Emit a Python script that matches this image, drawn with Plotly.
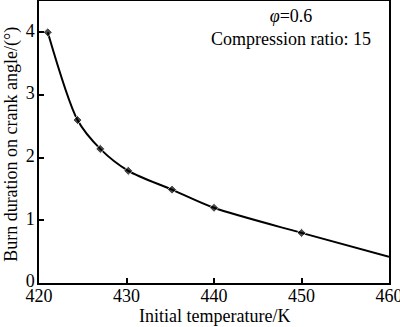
import plotly.graph_objects as go

# Burn duration vs. initial temperature (phi = 0.6, compression ratio 15)
temperature = [421.0, 424.4, 427.0, 430.2, 435.2, 440.0, 450.0, 460.0]
burn_duration = [4.0, 2.6, 2.14, 1.79, 1.49, 1.2, 0.8, 0.42]
marker_sizes = [7, 7, 7, 7, 7, 7, 7, 0]

x_ticks = [420, 430, 440, 450, 460]
y_ticks = [0, 1, 2, 3, 4]

x_title = "Initial temperature/K"
y_title = "Burn duration on crank angle/(°)"

font_family = "Liberation Serif, Times New Roman, serif"
text_font = dict(family=font_family, size=18, color="black")

fig = go.Figure()
fig.add_trace(go.Scatter(
    x=temperature, y=burn_duration,
    mode="lines+markers",
    line=dict(color="black", width=2, shape="spline", smoothing=0.8),
    marker=dict(symbol="diamond", size=marker_sizes, color="black"),
    showlegend=False,
))

fig.add_annotation(
    x=0.72, y=0.99, xref="paper", yref="paper",
    text="<i>φ</i>=0.6<br>Compression ratio: 15",
    showarrow=False, xanchor="center", yanchor="top", align="center",
    font=text_font,
)

# Axis titles placed just outside the tick labels
fig.add_annotation(
    x=0.5, y=-0.118, xref="paper", yref="paper",
    text=x_title, showarrow=False, xanchor="center", yanchor="middle",
    font=text_font,
)
fig.add_annotation(
    x=-0.077, y=0.49, xref="paper", yref="paper",
    text=y_title, showarrow=False, xanchor="center", yanchor="middle",
    textangle=-90, font=text_font,
)

axis_common = dict(
    showline=True, linecolor="black", linewidth=1.5, mirror=True,
    ticks="inside", ticklen=5, tickwidth=1.5, tickcolor="black",
    showgrid=False, zeroline=False, automargin=False,
    tickfont=text_font, ticklabeloverflow="allow",
)

fig.update_layout(
    width=400, height=327,
    margin=dict(l=39, r=11, t=1, b=44),
    paper_bgcolor="white", plot_bgcolor="white",
    xaxis=dict(range=[420, 460], tickvals=x_ticks, ticklabelstandoff=-4,
               **axis_common),
    yaxis=dict(range=[0, 4.5], tickvals=y_ticks, ticklabelstandoff=-1,
               ticklabelshift=-2, **axis_common),
)

fig.write_html("out.html")
